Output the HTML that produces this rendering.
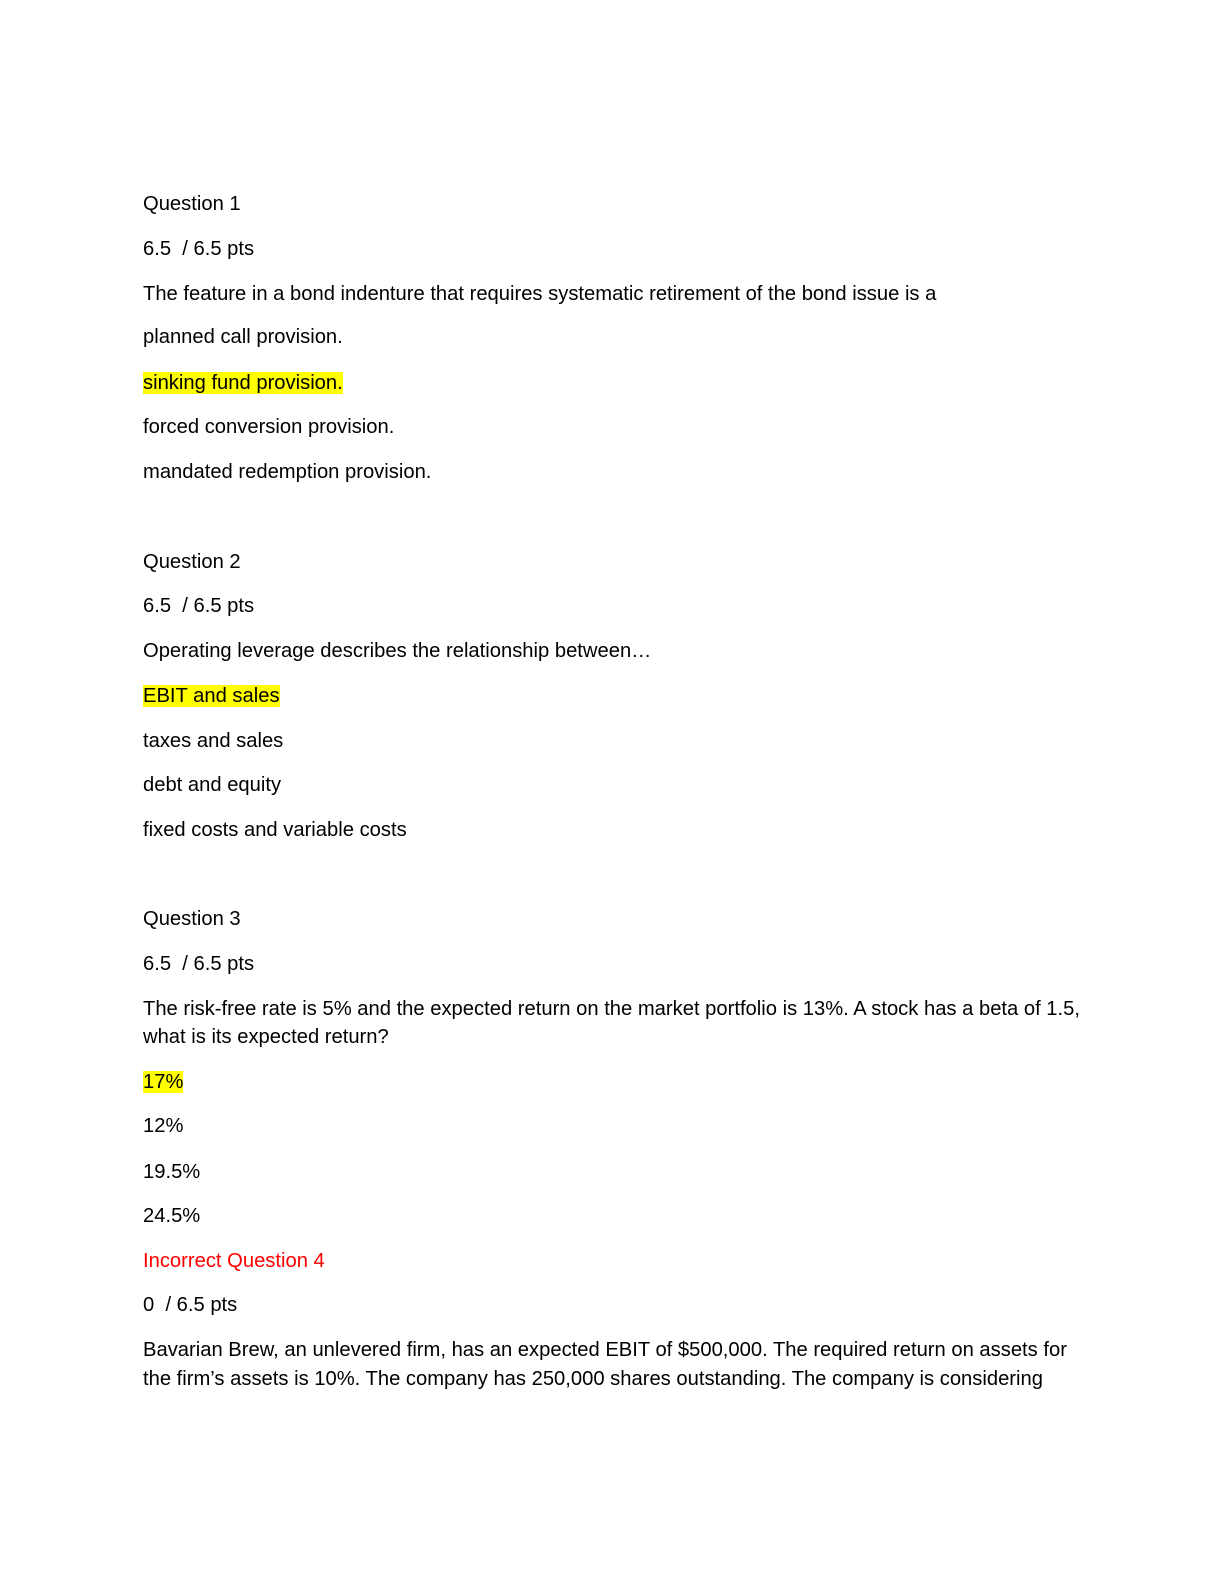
<!DOCTYPE html>
<html><head><meta charset="utf-8"><style>
html,body{margin:0;padding:0;background:#fff;}
body{width:1224px;height:1584px;position:relative;overflow:hidden;font-family:"Liberation Sans",sans-serif;font-size:20.2px;color:#000;}
.l{position:absolute;left:143px;line-height:26px;white-space:nowrap;}
.h{background:#ffff00;}
.r{color:#ff0000;}
</style></head><body>
<div class="l" style="top:191px">Question 1</div>
<div class="l" style="top:236px">6.5&nbsp; / 6.5 pts</div>
<div class="l" style="top:281px">The feature in a bond indenture that requires systematic retirement of the bond issue is a</div>
<div class="l" style="top:324px">planned call provision.</div>
<div class="l" style="top:370px"><span class="h">sinking fund provision.</span></div>
<div class="l" style="top:414px">forced conversion provision.</div>
<div class="l" style="top:459px">mandated redemption provision.</div>
<div class="l" style="top:549px">Question 2</div>
<div class="l" style="top:593px">6.5&nbsp; / 6.5 pts</div>
<div class="l" style="top:638px">Operating leverage describes the relationship between…</div>
<div class="l" style="top:683px"><span class="h">EBIT and sales</span></div>
<div class="l" style="top:728px">taxes and sales</div>
<div class="l" style="top:772px">debt and equity</div>
<div class="l" style="top:817px">fixed costs and variable costs</div>
<div class="l" style="top:906px">Question 3</div>
<div class="l" style="top:951px">6.5&nbsp; / 6.5 pts</div>
<div class="l" style="top:996px">The risk-free rate is 5% and the expected return on the market portfolio is 13%. A stock has a beta of 1.5,</div>
<div class="l" style="top:1024px">what is its expected return?</div>
<div class="l" style="top:1069px"><span class="h">17%</span></div>
<div class="l" style="top:1113px">12%</div>
<div class="l" style="top:1159px">19.5%</div>
<div class="l" style="top:1203px">24.5%</div>
<div class="l r" style="top:1248px">Incorrect Question 4</div>
<div class="l" style="top:1292px">0&nbsp; / 6.5 pts</div>
<div class="l" style="top:1337px">Bavarian Brew, an unlevered firm, has an expected EBIT of $500,000. The required return on assets for</div>
<div class="l" style="top:1366px">the firm’s assets is 10%. The company has 250,000 shares outstanding. The company is considering</div>
</body></html>
